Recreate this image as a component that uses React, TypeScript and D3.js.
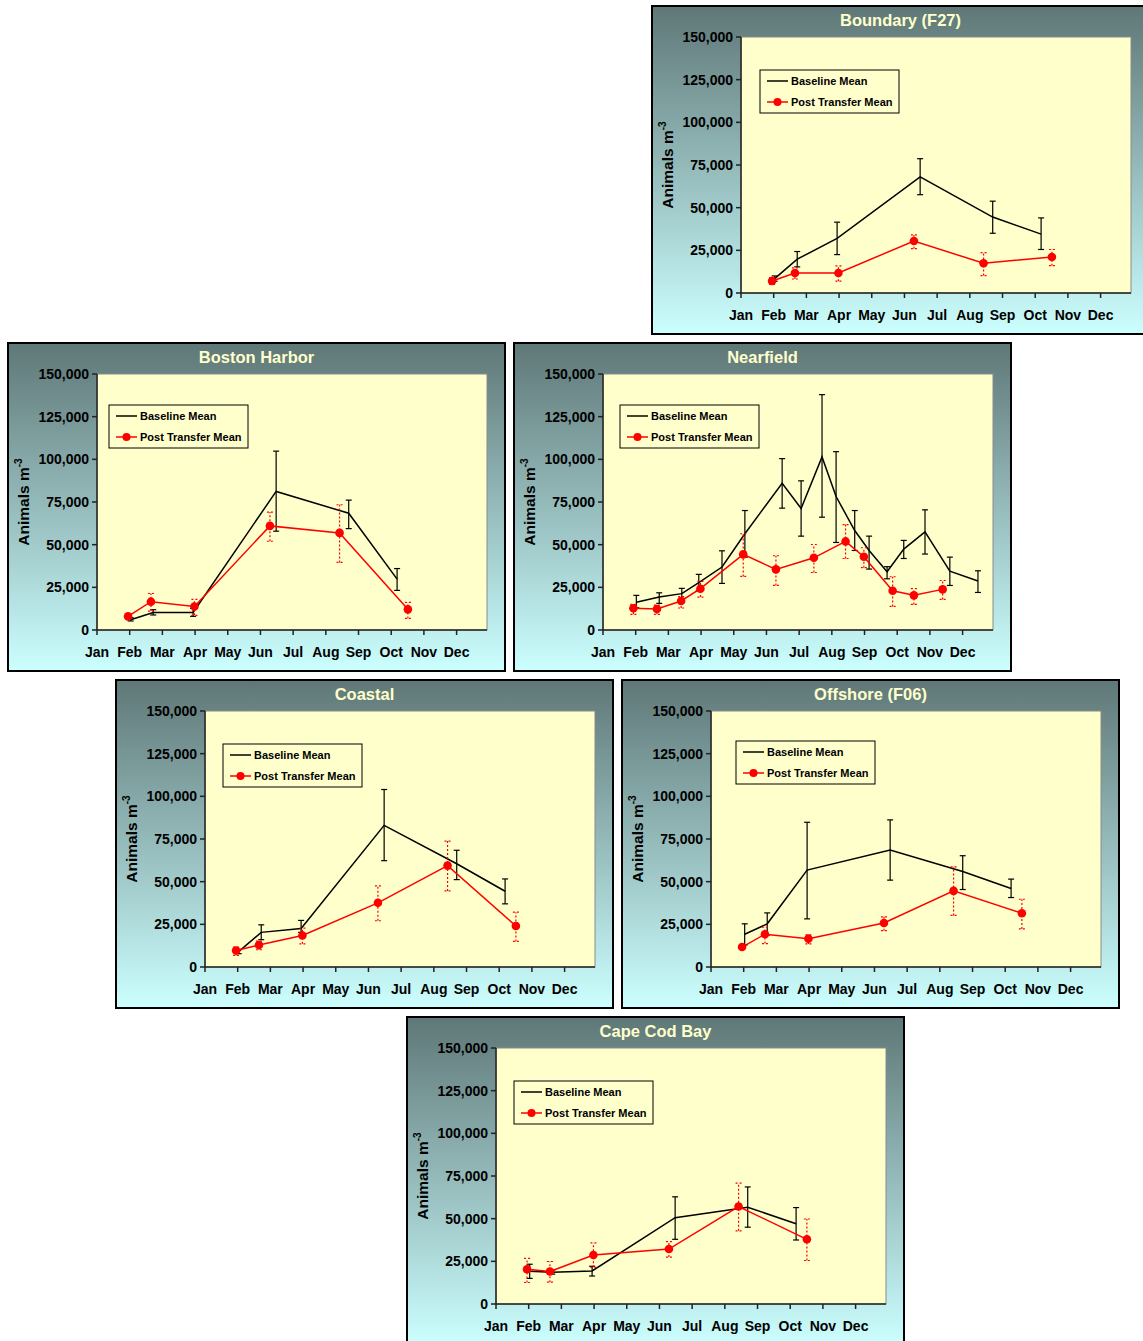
import React from "react";
import * as d3 from "d3";

// ---------- shared labels / ticks ----------
const MONTHS = ["Jan", "Feb", "Mar", "Apr", "May", "Jun", "Jul", "Aug", "Sep", "Oct", "Nov", "Dec"];
const Y_TICKS = [0, 25000, 50000, 75000, 100000, 125000, 150000];
const SERIES_NAMES = ["Baseline Mean", "Post Transfer Mean"];

// survey positions in fractional months (0 = 1 Jan)
const baselineMonths = [1.03, 1.72, 2.94, 5.48, 7.7, 9.18];
const postMonths = [0.95, 1.65, 2.98, 5.29, 7.42, 9.51];

// ---------- Boundary (F27) ----------
const boundaryBaseMean = [8400, 19800, 32000, 68000, 44500, 34500];
const boundaryBaseLo = [6900, 15300, 22500, 57600, 35000, 25500];
const boundaryBaseHi = [10000, 24300, 41500, 78700, 53800, 44000];
const boundaryPostMean = [7000, 11700, 11700, 30500, 17400, 21100];
const boundaryPostLo = [5000, 8200, 6900, 26000, 10200, 16000];
const boundaryPostHi = [9000, 14700, 15900, 34000, 23700, 25500];

// ---------- Boston Harbor ----------
const bostonBaseMean = [6000, 10300, 10300, 81200, 68400, 29800];
const bostonBaseLo = [5300, 8800, 8000, 57900, 59400, 23200];
const bostonBaseHi = [7200, 11900, 12700, 104800, 76100, 36000];
const bostonPostMean = [8000, 16600, 13800, 61000, 56900, 12100];
const bostonPostLo = [6800, 11100, 8600, 52000, 39600, 6800];
const bostonPostHi = [9200, 21400, 17900, 69100, 73400, 16200];

// ---------- Nearfield ----------
const nearBaseMonths = [1.02, 1.72, 2.41, 2.93, 3.64, 4.34, 5.48, 6.06, 6.7, 7.13, 7.7, 8.14, 8.69, 9.2, 9.85, 10.61, 11.47];
const nearBaseMean = [16200, 19300, 21300, 27700, 36900, 56400, 86000, 71200, 101400, 78200, 58300, 46600, 34100, 47400, 57500, 34500, 28700];
const nearBaseLo = [13000, 15600, 18500, 23000, 27300, 42700, 71400, 55000, 66100, 51300, 46600, 35700, 30000, 41900, 44500, 26100, 22000];
const nearBaseHi = [20300, 21800, 24400, 32600, 46400, 70000, 100400, 87400, 137900, 104500, 70000, 55000, 37100, 52500, 70400, 42700, 34700];
const nearPostMonths = [0.93, 1.65, 2.39, 2.98, 4.29, 5.29, 6.45, 7.42, 7.98, 8.86, 9.51, 10.39];
const nearPostMean = [12700, 12300, 17000, 24200, 44300, 35500, 42300, 51900, 42900, 23000, 20300, 23800];
const nearPostLo = [9200, 9200, 12900, 19300, 31400, 26100, 33700, 41900, 36500, 13800, 15000, 17900];
const nearPostHi = [15000, 14600, 19500, 28500, 56400, 43500, 50100, 61800, 48200, 31200, 24200, 29000];

// ---------- Coastal ----------
const coastalBaseMean = [9000, 20300, 22600, 83000, 60500, 44400];
const coastalBaseLo = [7800, 16000, 20300, 62300, 51200, 37000];
const coastalBaseHi = [10300, 24700, 27300, 104000, 68400, 51600];
const coastalPostMean = [9700, 12900, 18500, 37600, 59400, 24000];
const coastalPostLo = [6800, 10100, 13600, 27100, 44600, 15000];
const coastalPostHi = [11700, 15200, 22800, 47500, 73800, 32100];

// ---------- Offshore (F06) ----------
const offshoreBaseMean = [19200, 25300, 56800, 68500, 56000, 46000];
const offshoreBaseLo = [12900, 18800, 28200, 50900, 45400, 40700];
const offshoreBaseHi = [25300, 31700, 84800, 86200, 65200, 51500];
const offshorePostMean = [11700, 19200, 16600, 25800, 44600, 31500];
const offshorePostLo = [10500, 13700, 13500, 21300, 30200, 22300];
const offshorePostHi = [13000, 23300, 18800, 29400, 58700, 39700];

// ---------- Cape Cod Bay ----------
const capeBaseMean = [19200, 18600, 19400, 50600, 56700, 47000];
const capeBaseLo = [15000, 17500, 16400, 37900, 45000, 37500];
const capeBaseHi = [23300, 19800, 22100, 62800, 68600, 56500];
const capePostMean = [20400, 19000, 28700, 32200, 57100, 37900];
const capePostLo = [12600, 12800, 21500, 27500, 42900, 25500];
const capePostHi = [26700, 24900, 35800, 36600, 70800, 49800];

type Pt = { m: number; v: number; lo: number; hi: number };
const zip = (ms: number[], v: number[], lo: number[], hi: number[]): Pt[] =>
  ms.map((m, i) => ({ m, v: v[i], lo: lo[i], hi: hi[i] }));

const panels = [
  { title: "Boundary (F27)", px: 651, py: 5, lx: 109, ly: 65,
    base: zip(baselineMonths, boundaryBaseMean, boundaryBaseLo, boundaryBaseHi),
    post: zip(postMonths, boundaryPostMean, boundaryPostLo, boundaryPostHi) },
  { title: "Boston Harbor", px: 7, py: 342, lx: 102, ly: 63,
    base: zip(baselineMonths, bostonBaseMean, bostonBaseLo, bostonBaseHi),
    post: zip(postMonths, bostonPostMean, bostonPostLo, bostonPostHi) },
  { title: "Nearfield", px: 513, py: 342, lx: 107, ly: 63,
    base: zip(nearBaseMonths, nearBaseMean, nearBaseLo, nearBaseHi),
    post: zip(nearPostMonths, nearPostMean, nearPostLo, nearPostHi) },
  { title: "Coastal", px: 115, py: 679, lx: 108, ly: 65,
    base: zip(baselineMonths, coastalBaseMean, coastalBaseLo, coastalBaseHi),
    post: zip(postMonths, coastalPostMean, coastalPostLo, coastalPostHi) },
  { title: "Offshore (F06)", px: 621, py: 679, lx: 115, ly: 62,
    base: zip(baselineMonths, offshoreBaseMean, offshoreBaseLo, offshoreBaseHi),
    post: zip(postMonths, offshorePostMean, offshorePostLo, offshorePostHi) },
  { title: "Cape Cod Bay", px: 406, py: 1016, lx: 108, ly: 65,
    base: zip(baselineMonths, capeBaseMean, capeBaseLo, capeBaseHi),
    post: zip(postMonths, capePostMean, capePostLo, capePostHi) },
];

const W = 499, H = 330;
const PL = 90, PR = 480, PT = 32, PB = 288;
const FONT = "'Liberation Sans', Arial, Helvetica, sans-serif";

function Panel({ p }: { p: typeof panels[number] }) {
  const x = d3.scaleLinear().domain([0, 11.93]).range([PL, PR]);
  const y = d3.scaleLinear().domain([0, 150000]).range([PB, PT]);
  const line = d3.line<Pt>().x((d) => x(d.m)).y((d) => y(d.v));
  const fmt = d3.format(",");
  const cap = 3;
  return (
    <g transform={`translate(${p.px},${p.py})`}>
      <rect x={1} y={1} width={W - 2} height={H - 2} fill="url(#panelGrad)" stroke="#000" strokeWidth={2} />
      <text x={W / 2} y={21} textAnchor="middle" fontSize={16.5} fontWeight="bold" fill="#ffffcc">{p.title}</text>
      <rect x={PL} y={PT} width={PR - PL} height={PB - PT} fill="#ffffcc" stroke="#8a8a8a" strokeWidth={1} />
      {/* axes */}
      <line x1={PL} x2={PL} y1={PT} y2={PB} stroke="#222" strokeWidth={1.5} />
      <line x1={PL} x2={PR} y1={PB} y2={PB} stroke="#222" strokeWidth={1.5} />
      {Y_TICKS.map((t) => (
        <g key={t}>
          <line x1={PL - 5} x2={PL} y1={y(t)} y2={y(t)} stroke="#222" strokeWidth={1.5} />
          <text x={PL - 8} y={y(t)} dy="0.36em" textAnchor="end" fontSize={14} fontWeight="bold" fill="#000">{fmt(t)}</text>
        </g>
      ))}
      {MONTHS.map((mName, i) => (
        <g key={mName}>
          <line x1={x(i)} x2={x(i)} y1={PB} y2={PB + 5} stroke="#222" strokeWidth={1.5} />
          <text x={x(i)} y={PB + 27} textAnchor="middle" fontSize={14} fontWeight="bold" fill="#000">{mName}</text>
        </g>
      ))}
      <text transform={`translate(22,${(PT + PB) / 2}) rotate(-90)`} textAnchor="middle" fontSize={15.5} fontWeight="bold" fill="#000">
        Animals m<tspan dy={-7} fontSize={10}>-3</tspan>
      </text>
      {/* baseline */}
      <path d={line(p.base) || ""} fill="none" stroke="#000" strokeWidth={1.5} />
      {p.base.map((d, i) => (
        <g key={"b" + i} stroke="#000" strokeWidth={1.2}>
          <line x1={x(d.m)} x2={x(d.m)} y1={y(d.lo)} y2={y(d.hi)} />
          <line x1={x(d.m) - cap} x2={x(d.m) + cap} y1={y(d.lo)} y2={y(d.lo)} />
          <line x1={x(d.m) - cap} x2={x(d.m) + cap} y1={y(d.hi)} y2={y(d.hi)} />
        </g>
      ))}
      {/* post transfer */}
      <path d={line(p.post) || ""} fill="none" stroke="#ff0000" strokeWidth={1.5} />
      {p.post.map((d, i) => (
        <g key={"p" + i} stroke="#ff0000" strokeWidth={1.2} strokeDasharray="2,2">
          <line x1={x(d.m)} x2={x(d.m)} y1={y(d.lo)} y2={y(d.hi)} />
          <line x1={x(d.m) - cap} x2={x(d.m) + cap} y1={y(d.lo)} y2={y(d.lo)} />
          <line x1={x(d.m) - cap} x2={x(d.m) + cap} y1={y(d.hi)} y2={y(d.hi)} />
        </g>
      ))}
      {p.post.map((d, i) => (
        <circle key={"c" + i} cx={x(d.m)} cy={y(d.v)} r={4.3} fill="#ff0000" />
      ))}
      {/* legend */}
      <g transform={`translate(${p.lx},${p.ly})`}>
        <rect x={0} y={0} width={139} height={43} fill="#ffffcc" stroke="#000" strokeWidth={1} />
        <line x1={7} x2={28} y1={11} y2={11} stroke="#000" strokeWidth={1.5} />
        <text x={31} y={15} fontSize={11} fontWeight="bold" fill="#000">{SERIES_NAMES[0]}</text>
        <line x1={7} x2={28} y1={32} y2={32} stroke="#ff0000" strokeWidth={1.5} />
        <circle cx={17.5} cy={32} r={4} fill="#ff0000" />
        <text x={31} y={36} fontSize={11} fontWeight="bold" fill="#000">{SERIES_NAMES[1]}</text>
      </g>
    </g>
  );
}

export default function App() {
  return (
    <svg width={1143} height={1341} style={{ position: "absolute", left: 0, top: 0, background: "#fff" }} fontFamily={FONT}>
      <defs>
        <linearGradient id="panelGrad" x1="0" y1="0" x2="0" y2="1">
          <stop offset="0%" stopColor="#5f7777" />
          <stop offset="100%" stopColor="#ccffff" />
        </linearGradient>
      </defs>
      <rect x={0} y={0} width={1143} height={1341} fill="#fff" />
      {panels.map((p) => (
        <Panel key={p.title} p={p} />
      ))}
    </svg>
  );
}
